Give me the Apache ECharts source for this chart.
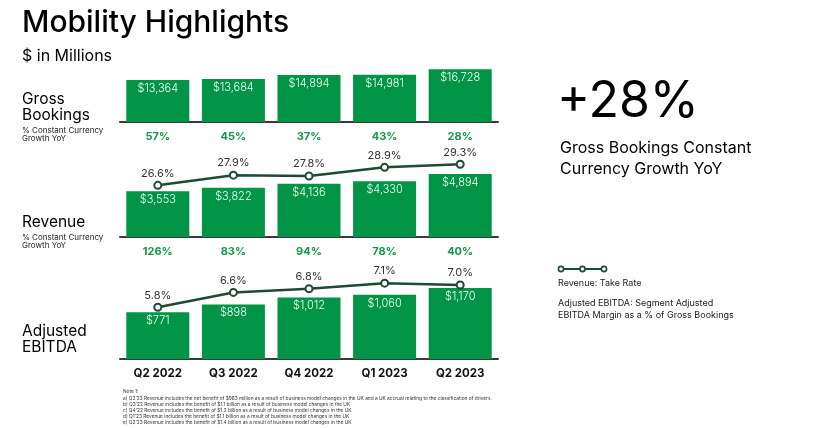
<!DOCTYPE html>
<html><head><meta charset="utf-8">
<script src="https://cdn.jsdelivr.net/npm/echarts@6/dist/echarts.min.js"></script>
<style>html,body{margin:0;padding:0;background:#fff}#c{width:828px;height:428px}</style>
</head><body><div id="c"></div>
<script>
const categories = ['Q2 2022','Q3 2022','Q4 2022','Q1 2023','Q2 2023'];
const grossBookings = [13364, 13684, 14894, 14981, 16728];
const gbGrowth = [57, 45, 37, 43, 28];
const revenue = [3553, 3822, 4136, 4330, 4894];
const revGrowth = [126, 83, 94, 78, 40];
const takeRate = [26.6, 27.9, 27.8, 28.9, 29.3];
const ebitda = [771, 898, 1012, 1060, 1170];
const ebitdaMargin = [5.8, 6.6, 6.8, 7.1, 7.0];
const footnotes = [
  'Note 1:',
  "a) Q2'22 Revenue includes the net benefit of $983 million as a result of business model changes in the UK and a UK accrual relating to the classification of drivers.",
  "b) Q3'22 Revenue includes the benefit of $1.1 billion as a result of business model changes in the UK",
  "c) Q4'22 Revenue includes the benefit of $1.2 billion as a result of business model changes in the UK",
  "d) Q1'23 Revenue includes the benefit of $1.1 billion as a result of business model changes in the UK",
  "e) Q2'23 Revenue includes the benefit of $1.4 billion as a result of business model changes in the UK"
];

const FONT = 'Inter';
const GREEN = '#009447';
const LINE = '#1e4a31';
const chart = echarts.init(document.getElementById('c'), null, {renderer:'canvas'});

const grids = [
  {left:120, width:378, top:59, height:63},
  {left:120, width:378, top:147, height:90},
  {left:120, width:378, top:268, height:91}
];
const fmtMoney = v => '$' + v.toLocaleString('en-US');
function xAx(i, labels, style){
  return {type:'category', gridIndex:i, data:categories,
    axisLine:{show:true, lineStyle:{color:'#3a3a3a', width:2}},
    axisTick:{show:false},
    axisLabel:Object.assign({margin:9, fontFamily:FONT, formatter:(v, idx)=>labels[idx]}, style)};
}
const growthStyle = {color:'#12984a', fontWeight:'bold', fontSize:11};
const yHidden = (i, min, max) => ({type:'value', gridIndex:i, min:min, max:max, show:false, splitLine:{show:false}});

function barSeries(i, data){
  return {type:'bar', xAxisIndex:i, yAxisIndex:i===0?0:(i===1?1:3), data:data, barWidth:63,
    itemStyle:{color:GREEN},
    label:{show:true, position:'insideTop', distance:3, color:'#f2fff6', fontFamily:FONT, fontSize:11, fontWeight:300, formatter:p=>fmtMoney(p.value)},
    silent:true, animation:false};
}
function lineSeries(i, yi, data){
  return {type:'line', xAxisIndex:i, yAxisIndex:yi, data:data, symbol:'circle', symbolSize:7,
    lineStyle:{color:LINE, width:2.5}, itemStyle:{color:'#fff', borderColor:LINE, borderWidth:2},
    label:{show:true, position:'top', distance:2, color:'#333', fontFamily:FONT, fontSize:11, formatter:p=>p.value.toFixed(1)+'%'},
    z:5, animation:false};
}

const smallTxt = {fontFamily:FONT, fontSize:8, fill:'#222', lineHeight:8};
const graphic = [
  {type:'text', left:22, top:8, style:{text:'Mobility Highlights', fontFamily:FONT, fontSize:30, fontWeight:500, fill:'#000'}},
  {type:'text', left:22, top:48, style:{text:'$ in Millions', fontFamily:FONT, fontSize:16, fill:'#000'}},
  {type:'text', left:22, top:91, style:{text:'Gross\nBookings', fontFamily:FONT, fontSize:15.5, fill:'#000', lineHeight:16}},
  {type:'text', left:22, top:127, style:Object.assign({text:'% Constant Currency\nGrowth YoY'}, smallTxt)},
  {type:'text', left:22, top:214, style:{text:'Revenue', fontFamily:FONT, fontSize:15.5, fill:'#000'}},
  {type:'text', left:22, top:234, style:Object.assign({text:'% Constant Currency\nGrowth YoY'}, smallTxt)},
  {type:'text', left:22, top:323, style:{text:'Adjusted\nEBITDA', fontFamily:FONT, fontSize:15.5, fill:'#000', lineHeight:16}},
  {type:'text', left:557, top:77, style:{text:'+' + gbGrowth[gbGrowth.length-1] + '%', fontFamily:FONT, fontSize:50, fontWeight:400, fill:'#000'}},
  {type:'text', left:560, top:138, style:{text:'Gross Bookings Constant\nCurrency Growth YoY', fontFamily:FONT, fontSize:16, fill:'#000', lineHeight:21}},
  {type:'line', shape:{x1:560, y1:269, x2:605, y2:269}, style:{stroke:LINE, lineWidth:2}},
  {type:'circle', shape:{cx:561, cy:269, r:2.6}, style:{fill:'#fff', stroke:LINE, lineWidth:1.6}},
  {type:'circle', shape:{cx:582.5, cy:269, r:2.6}, style:{fill:'#fff', stroke:LINE, lineWidth:1.6}},
  {type:'circle', shape:{cx:604, cy:269, r:2.6}, style:{fill:'#fff', stroke:LINE, lineWidth:1.6}},
  {type:'text', left:558, top:279, style:{text:'Revenue: Take Rate', fontFamily:FONT, fontSize:9, fill:'#222'}},
  {type:'text', left:558, top:297, style:{text:'Adjusted EBITDA: Segment Adjusted\nEBITDA Margin as a % of Gross Bookings', fontFamily:FONT, fontSize:9, fill:'#222', lineHeight:12.5}},
  {type:'text', left:123, top:389, style:{text:footnotes.join('\n'), fontFamily:FONT, fontSize:4.8, fill:'#333', lineHeight:6.1}}
];

chart.setOption({
  backgroundColor:'#fff',
  animation:false,
  grid:grids,
  xAxis:[
    xAx(0, gbGrowth.map(v=>v+'%'), growthStyle),
    xAx(1, revGrowth.map(v=>v+'%'), growthStyle),
    xAx(2, categories, {color:'#111', fontWeight:'bold', fontSize:11.5})
  ],
  yAxis:[
    yHidden(0, 0, 20000),
    yHidden(1, 0, 7000),
    yHidden(1, 20, 31.5),
    yHidden(2, 0, 1500),
    yHidden(2, 3, 7.92)
  ],
  series:[
    barSeries(0, grossBookings),
    barSeries(1, revenue),
    lineSeries(1, 2, takeRate),
    barSeries(2, ebitda),
    lineSeries(2, 4, ebitdaMargin)
  ],
  graphic:graphic
});
</script></body></html>
